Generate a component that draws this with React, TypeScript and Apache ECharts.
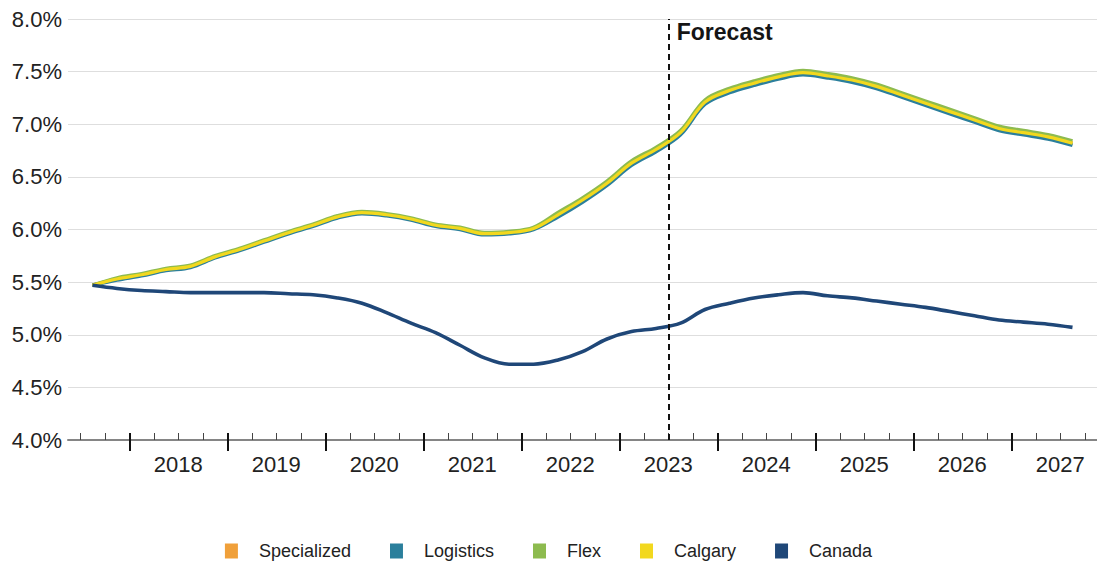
import React, { useEffect, useRef } from "react";
import * as echarts from "echarts";

// Quarterly observations / forecasts (plotted at the middle of each quarter)
const quarters = [
  "2017Q3", "2017Q4",
  "2018Q1", "2018Q2", "2018Q3", "2018Q4",
  "2019Q1", "2019Q2", "2019Q3", "2019Q4",
  "2020Q1", "2020Q2", "2020Q3", "2020Q4",
  "2021Q1", "2021Q2", "2021Q3", "2021Q4",
  "2022Q1", "2022Q2", "2022Q3", "2022Q4",
  "2023Q1", "2023Q2", "2023Q3", "2023Q4",
  "2024Q1", "2024Q2", "2024Q3", "2024Q4",
  "2025Q1", "2025Q2", "2025Q3", "2025Q4",
  "2026Q1", "2026Q2", "2026Q3", "2026Q4",
  "2027Q1", "2027Q2", "2027Q3",
];

const specialized = [
  5.47, 5.53, 5.57, 5.62, 5.65, 5.74, 5.81, 5.89, 5.97, 6.04,
  6.12, 6.16, 6.14, 6.10, 6.04, 6.01, 5.96, 5.97, 6.01, 6.14,
  6.28, 6.44, 6.63, 6.76, 6.92, 7.21, 7.32, 7.39, 7.45, 7.49,
  7.46, 7.42, 7.36, 7.28, 7.20, 7.12, 7.04, 6.96, 6.92, 6.88, 6.82,
];
const logistics = [
  5.47, 5.52, 5.56, 5.61, 5.64, 5.73, 5.80, 5.88, 5.96, 6.03,
  6.11, 6.15, 6.13, 6.09, 6.03, 6.00, 5.95, 5.96, 6.00, 6.12,
  6.26, 6.42, 6.61, 6.74, 6.90, 7.19, 7.30, 7.37, 7.43, 7.47,
  7.44, 7.40, 7.34, 7.26, 7.18, 7.10, 7.02, 6.94, 6.90, 6.86, 6.80,
];
const flex = [
  5.47, 5.54, 5.58, 5.63, 5.66, 5.75, 5.82, 5.90, 5.98, 6.05,
  6.13, 6.17, 6.15, 6.11, 6.05, 6.02, 5.97, 5.98, 6.02, 6.16,
  6.30, 6.46, 6.65, 6.78, 6.94, 7.23, 7.34, 7.41, 7.47, 7.51,
  7.48, 7.44, 7.38, 7.30, 7.22, 7.14, 7.06, 6.98, 6.94, 6.90, 6.84,
];
const calgary = [
  5.47, 5.53, 5.57, 5.62, 5.65, 5.74, 5.81, 5.89, 5.97, 6.04,
  6.12, 6.16, 6.14, 6.10, 6.04, 6.01, 5.96, 5.97, 6.01, 6.14,
  6.28, 6.44, 6.63, 6.76, 6.92, 7.21, 7.32, 7.39, 7.45, 7.49,
  7.46, 7.42, 7.36, 7.28, 7.20, 7.12, 7.04, 6.96, 6.92, 6.88, 6.82,
];
const canada = [
  5.47, 5.44, 5.42, 5.41, 5.40, 5.40, 5.40, 5.40, 5.39, 5.38,
  5.35, 5.30, 5.21, 5.11, 5.02, 4.90, 4.78, 4.72, 4.72, 4.76,
  4.84, 4.96, 5.03, 5.06, 5.11, 5.24, 5.30, 5.35, 5.38, 5.40,
  5.37, 5.35, 5.32, 5.29, 5.26, 5.22, 5.18, 5.14, 5.12, 5.10, 5.07,
];

const yearLabels = ["2018", "2019", "2020", "2021", "2022", "2023", "2024", "2025", "2026", "2027"];

const seriesNames = ["Specialized", "Logistics", "Flex", "Calgary", "Canada"];
const seriesColors = ["#f0a03a", "#2b7f9c", "#8dbb4f", "#f2d81e", "#1f4778"];
const seriesWidths = [3.6, 3.6, 3.6, 3.2, 3.6];

const AXIS_MIN = 2017.375;
const AXIS_MAX = 2027.875;
const FORECAST_START = 2023.5;
const Y_MIN = 4;
const Y_MAX = 8;
const Y_STEP = 0.5;

const quarterToX = (q: string) => {
  const y = parseInt(q.slice(0, 4), 10);
  const n = parseInt(q.slice(5), 10);
  return y + (n - 1) * 0.25 + 0.125;
};

// half-month scaffolding for ticks/labels on the time axis
const HALF_START = Math.round(AXIS_MIN * 24);
const HALF_END = Math.round(AXIS_MAX * 24);
const halfMonths: string[] = [];
for (let n = HALF_START; n <= HALF_END; n++) halfMonths.push(String(n));

const isQuarterBoundary = (i: number) => (HALF_START + i) % 6 === 0;
const isYearBoundary = (i: number) => (HALF_START + i) % 24 === 0;
const yearLabelAt = (i: number) => {
  const n = HALF_START + i;
  if (n % 24 !== 12) return null;
  const lbl = String(Math.floor(n / 24));
  return yearLabels.includes(lbl) ? lbl : null;
};

const FONT = "'Liberation Sans', Arial, Helvetica, sans-serif";

export default function App() {
  const ref = useRef<HTMLDivElement>(null);

  useEffect(() => {
    if (!ref.current) return;
    const chart = echarts.init(ref.current, null, { renderer: "svg" });
    const xs = quarters.map(quarterToX);
    const allData = [specialized, logistics, flex, calgary, canada];

    const series: any[] = allData.map((arr, k) => ({
      name: seriesNames[k],
      type: "line",
      xAxisIndex: 0,
      yAxisIndex: 0,
      data: arr.map((v, i) => [xs[i], v]),
      smooth: 0.35,
      symbol: "none",
      lineStyle: { color: seriesColors[k], width: seriesWidths[k] },
      itemStyle: { color: seriesColors[k] },
      z: 3 + k,
    }));

    series[4].markLine = {
      silent: true,
      symbol: "none",
      label: { show: false },
      lineStyle: { color: "#111", type: [6, 4], width: 2 },
      data: [{ xAxis: FORECAST_START }],
      z: 10,
    };
    series[4].markPoint = {
      silent: true,
      symbol: "circle",
      symbolSize: 1,
      itemStyle: { color: "rgba(0,0,0,0)" },
      data: [
        {
          coord: [FORECAST_START, Y_MAX],
          label: {
            show: true,
            formatter: "Forecast",
            position: "right",
            distance: 8,
            offset: [0, 13],
            fontSize: 23,
            fontWeight: "bold",
            color: "#151515",
            fontFamily: FONT,
          },
        },
      ],
    };

    chart.setOption({
      animation: false,
      backgroundColor: "#ffffff",
      textStyle: { fontFamily: FONT },
      grid: { left: 68, right: 0, top: 19, bottom: 123, containLabel: false },
      legend: {
        data: seriesNames,
        left: "center",
        top: 537,
        icon: "rect",
        itemWidth: 13,
        itemHeight: 15,
        itemGap: 39,
        textStyle: { fontSize: 18, color: "#222", fontFamily: FONT, padding: [0, 0, 0, 16] },
      },
      xAxis: [
        {
          type: "value",
          min: AXIS_MIN,
          max: AXIS_MAX,
          show: false,
        },
        {
          type: "category",
          data: halfMonths,
          boundaryGap: false,
          position: "bottom",
          axisLine: { show: true, lineStyle: { color: "#858585", width: 2 } },
          axisTick: {
            show: true,
            inside: true,
            length: 7,
            interval: (i: number) => isQuarterBoundary(i),
            lineStyle: { color: "#444", width: 1 },
          },
          axisLabel: {
            show: true,
            interval: (i: number) => yearLabelAt(i) !== null,
            formatter: (v: string) => String(Math.floor(parseInt(v, 10) / 24)),
            fontSize: 22,
            color: "#222",
            margin: 13,
            fontFamily: FONT,
          },
          splitLine: { show: false },
        },
        {
          type: "category",
          data: halfMonths,
          boundaryGap: false,
          position: "bottom",
          axisLine: { show: false },
          axisTick: {
            show: true,
            inside: false,
            length: 11,
            interval: (i: number) => isYearBoundary(i),
            lineStyle: { color: "#111", width: 2 },
          },
          axisLabel: { show: false },
          splitLine: { show: false },
        },
        {
          type: "category",
          data: halfMonths,
          boundaryGap: false,
          position: "bottom",
          axisLine: { show: false },
          axisTick: {
            show: true,
            inside: true,
            length: 7,
            interval: (i: number) => isYearBoundary(i),
            lineStyle: { color: "#111", width: 2 },
          },
          axisLabel: { show: false },
          splitLine: { show: false },
        },
      ],
      yAxis: {
        type: "value",
        min: Y_MIN,
        max: Y_MAX,
        interval: Y_STEP,
        axisLine: { show: false },
        axisTick: { show: false },
        axisLabel: {
          formatter: (v: number) => v.toFixed(1) + "%",
          fontSize: 22,
          color: "#222",
          margin: 6,
          fontFamily: FONT,
        },
        splitLine: { show: true, lineStyle: { color: "#dedede", width: 1 } },
      },
      series,
    });

    return () => chart.dispose();
  }, []);

  return (
    <div
      ref={ref}
      style={{ position: "fixed", left: 0, top: 0, width: 1097, height: 563, background: "#fff" }}
    />
  );
}
